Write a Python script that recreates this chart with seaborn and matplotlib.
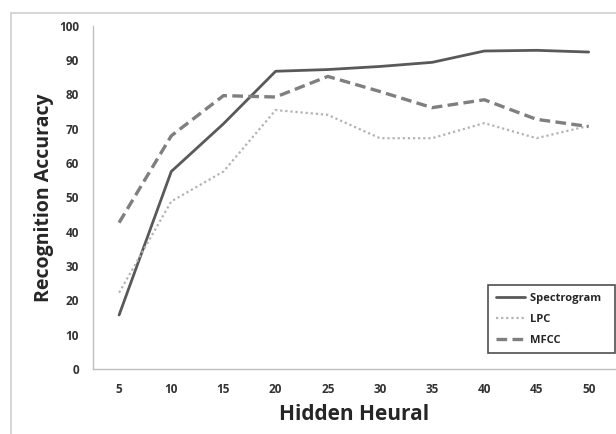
import matplotlib
matplotlib.use("Agg")
import matplotlib.pyplot as plt
from matplotlib.lines import Line2D
import numpy as np
import pandas as pd
import seaborn as sns

hidden = [5, 10, 15, 20, 25, 30, 35, 40, 45, 50]
spectrogram = [15.7, 57.5, 71.4, 86.7, 87.2, 88.1, 89.3, 92.6, 92.8, 92.3]
lpc = [22.2, 48.8, 57.5, 75.4, 74.0, 67.2, 67.2, 71.6, 67.2, 70.8]
mfcc = [42.6, 67.9, 79.6, 79.2, 85.2, 80.8, 76.1, 78.4, 72.7, 70.6]
series_names = ["Spectrogram", "LPC", "MFCC"]

sns.set_style("white")
plt.rcParams["font.family"] = ["Open Sans", "DejaVu Sans"]

df = pd.DataFrame({
    "pos": list(range(len(hidden))) * 3,
    "acc": spectrogram + lpc + mfcc,
    "series": np.repeat(series_names, len(hidden)),
})

styles = {
    "Spectrogram": dict(color="#595959", lw=2.0, ls="-"),
    "LPC": dict(color="#b3b3b3", lw=1.6, ls=(0, (1, 1.3))),
    "MFCC": dict(color="#7f7f7f", lw=2.4, ls=(0, (3.2, 1.6))),
}

fig = plt.figure(figsize=(6.16, 4.34), dpi=100)
ax = fig.add_axes([0.151, 0.150, 0.847, 0.791])

for name in series_names:
    st = styles[name]
    sns.lineplot(data=df[df["series"] == name], x="pos", y="acc", ax=ax,
                 color=st["color"], linewidth=st["lw"], linestyle=st["ls"],
                 label=name, legend=False)

ax.set_xlim(-0.5, len(hidden) - 0.5)
ax.set_ylim(0, 100)
ax.set_yticks(range(0, 101, 10))
ax.set_xticks(range(len(hidden)))
ax.set_xticklabels([str(h) for h in hidden])
ax.set_xticks(np.arange(-0.5, len(hidden), 1.0), minor=True)
ax.tick_params(axis="x", which="major", length=0, pad=10,
               labelsize=8.5, labelcolor="#333333")
ax.tick_params(axis="x", which="minor", length=4, color="#bfbfbf", width=1)
ax.tick_params(axis="y", which="major", length=4, color="#bfbfbf", width=1,
               labelsize=8.5, labelcolor="#333333", pad=6)
for lab in ax.get_xticklabels() + ax.get_yticklabels():
    lab.set_fontweight("bold")

for side in ["top", "right"]:
    ax.spines[side].set_visible(False)
for side in ["left", "bottom"]:
    ax.spines[side].set_color("#bfbfbf")
    ax.spines[side].set_linewidth(1.0)

ax.set_xlabel("Hidden Heural", fontsize=15, fontweight="bold", labelpad=6)
ax.set_ylabel("Recognition Accuracy", fontsize=14, fontweight="bold", labelpad=4)

handles = [Line2D([0], [0], color=styles[n]["color"], lw=styles[n]["lw"],
                  ls=styles[n]["ls"]) for n in series_names]
leg = ax.legend(handles, series_names, loc="lower right",
                bbox_to_anchor=(1.0, 0.045), frameon=True, fancybox=False,
                edgecolor="#222222", handlelength=2.6, handletextpad=0.5,
                labelspacing=0.9, borderpad=0.7, borderaxespad=0.0,
                prop={"size": 8, "weight": "bold"})
leg._legend_box.sep = 4
leg.get_frame().set_linewidth(1.2)
# extra room on the left of the legend box
for t in leg.get_texts():
    t.set_text(t.get_text() + "  ")

# outer chart-area border
fig.add_artist(Line2D([11 / 616, 11 / 616], [0, 1 - 13 / 434],
                      transform=fig.transFigure, color="#d0d0d0", lw=1.2))
fig.add_artist(Line2D([11 / 616, 1], [1 - 13 / 434, 1 - 13 / 434],
                      transform=fig.transFigure, color="#d0d0d0", lw=1.2))

fig.savefig("out.png", dpi=100)
